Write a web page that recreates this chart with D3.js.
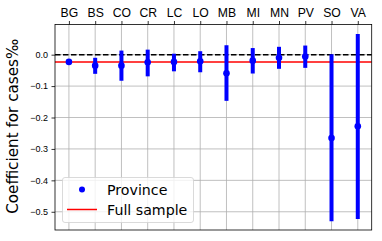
<!DOCTYPE html>
<html lang="en">
<head>
  <meta charset="UTF-8">
  <title>Coefficient for cases by province</title>
  <style>
    body { margin: 0; padding: 0; background: #ffffff; }
    svg { display: block; font-family: "DejaVu Sans", sans-serif; }
  </style>
</head>
<body>
  <svg id="chart"></svg>
  <script src="https://d3js.org/d3.v7.min.js"></script>
  <script>
    const width = 382;
    const height = 241;

    // data
    const provinces = ["BG", "BS", "CO", "CR", "LC", "LO", "MB", "MI", "MN", "PV", "SO", "VA"];
    const estimates = [-0.023, -0.035, -0.035, -0.024, -0.023, -0.021, -0.059, -0.019, -0.010, -0.006, -0.265, -0.228];
    const lowerBounds = [-0.027, -0.061, -0.083, -0.069, -0.053, -0.056, -0.147, -0.060, -0.045, -0.042, -0.530, -0.523];
    const upperBounds = [-0.019, -0.010, 0.013, 0.016, 0.003, 0.011, 0.030, 0.021, 0.025, 0.029, 0.001, 0.066];
    const fullSample = -0.023;
    const yTicks = [0.0, -0.1, -0.2, -0.3, -0.4, -0.5];

    const margin = { top: 24.5, right: 10.3, bottom: 11, left: 55 };

    const svg = d3.select("#chart").attr("width", width).attr("height", height);

    const x = d3.scaleLinear()
      .domain([-0.53, provinces.length - 1 + 0.53])
      .range([margin.left, width - margin.right]);

    const y = d3.scaleLinear()
      .domain([-0.558, 0.096])
      .range([height - margin.bottom, margin.top]);

    // grid
    svg.append("g")
      .selectAll("line")
      .data(provinces)
      .enter().append("line")
      .attr("x1", (d, i) => x(i)).attr("x2", (d, i) => x(i))
      .attr("y1", margin.top).attr("y2", height - margin.bottom)
      .attr("stroke", "#b0b0b0").attr("stroke-width", 0.8);

    svg.append("g")
      .selectAll("line")
      .data(yTicks)
      .enter().append("line")
      .attr("x1", margin.left).attr("x2", width - margin.right)
      .attr("y1", d => y(d)).attr("y2", d => y(d))
      .attr("stroke", "#b0b0b0").attr("stroke-width", 0.8);

    // reference lines
    svg.append("line")
      .attr("x1", margin.left).attr("x2", width - margin.right)
      .attr("y1", y(0)).attr("y2", y(0))
      .attr("stroke", "black").attr("stroke-width", 1.5)
      .attr("stroke-dasharray", "5.5,2.5");

    svg.append("line")
      .attr("x1", margin.left).attr("x2", width - margin.right)
      .attr("y1", y(fullSample)).attr("y2", y(fullSample))
      .attr("stroke", "red").attr("stroke-width", 1.5);

    // error bars and points
    svg.append("g")
      .selectAll("line")
      .data(provinces)
      .enter().append("line")
      .attr("x1", (d, i) => x(i)).attr("x2", (d, i) => x(i))
      .attr("y1", (d, i) => y(lowerBounds[i]))
      .attr("y2", (d, i) => y(upperBounds[i]))
      .attr("stroke", "blue").attr("stroke-width", 4);

    svg.append("g")
      .selectAll("circle")
      .data(provinces)
      .enter().append("circle")
      .attr("cx", (d, i) => x(i))
      .attr("cy", (d, i) => y(estimates[i]))
      .attr("r", 3.3)
      .attr("fill", "blue");

    // axes
    const topAxis = svg.append("g")
      .attr("transform", `translate(0,${margin.top})`)
      .call(d3.axisTop(x).tickValues(d3.range(provinces.length)).tickFormat(i => provinces[i]).tickSize(3.5).tickPadding(4.3));
    topAxis.select(".domain").remove();
    topAxis.selectAll("line").attr("stroke", "black").attr("stroke-width", 0.8);
    topAxis.selectAll("text").style("font-size", "12.2px").attr("fill", "black");

    const leftAxis = svg.append("g")
      .attr("transform", `translate(${margin.left},0)`)
      .call(d3.axisLeft(y).tickValues(yTicks).tickFormat(d => d3.format(".1f")(d).replace("-", "\u2212")).tickSize(3.5).tickPadding(3.5));
    leftAxis.select(".domain").remove();
    leftAxis.selectAll("line").attr("stroke", "black").attr("stroke-width", 0.8);
    leftAxis.selectAll("text").style("font-size", "9px").attr("fill", "black");

    // frame
    svg.append("rect")
      .attr("x", margin.left).attr("y", margin.top)
      .attr("width", width - margin.right - margin.left)
      .attr("height", height - margin.bottom - margin.top)
      .attr("fill", "none").attr("stroke", "black").attr("stroke-width", 0.8);

    svg.append("text")
      .attr("transform", `translate(18,${(margin.top + height - margin.bottom) / 2 - 1}) rotate(-90)`)
      .attr("text-anchor", "middle")
      .style("font-size", "15.2px")
      .text("Coefficient for cases\u2030");

    // legend
    const legend = svg.append("g");
    legend.append("rect")
      .attr("x", 62.5).attr("y", 177.5).attr("width", 131).attr("height", 45)
      .attr("rx", 2.5)
      .attr("fill", "white").attr("fill-opacity", 0.8)
      .attr("stroke", "#d0d0d0").attr("stroke-width", 0.8);
    legend.append("circle")
      .attr("cx", 82).attr("cy", 189.5).attr("r", 3)
      .attr("fill", "blue");
    legend.append("line")
      .attr("x1", 67).attr("x2", 97).attr("y1", 209.5).attr("y2", 209.5)
      .attr("stroke", "red").attr("stroke-width", 1.5);
    legend.append("text")
      .attr("x", 107).attr("y", 194.5)
      .style("font-size", "14.2px")
      .text("Province");
    legend.append("text")
      .attr("x", 107).attr("y", 214.5)
      .style("font-size", "14.2px")
      .text("Full sample");
  </script>
</body>
</html>
